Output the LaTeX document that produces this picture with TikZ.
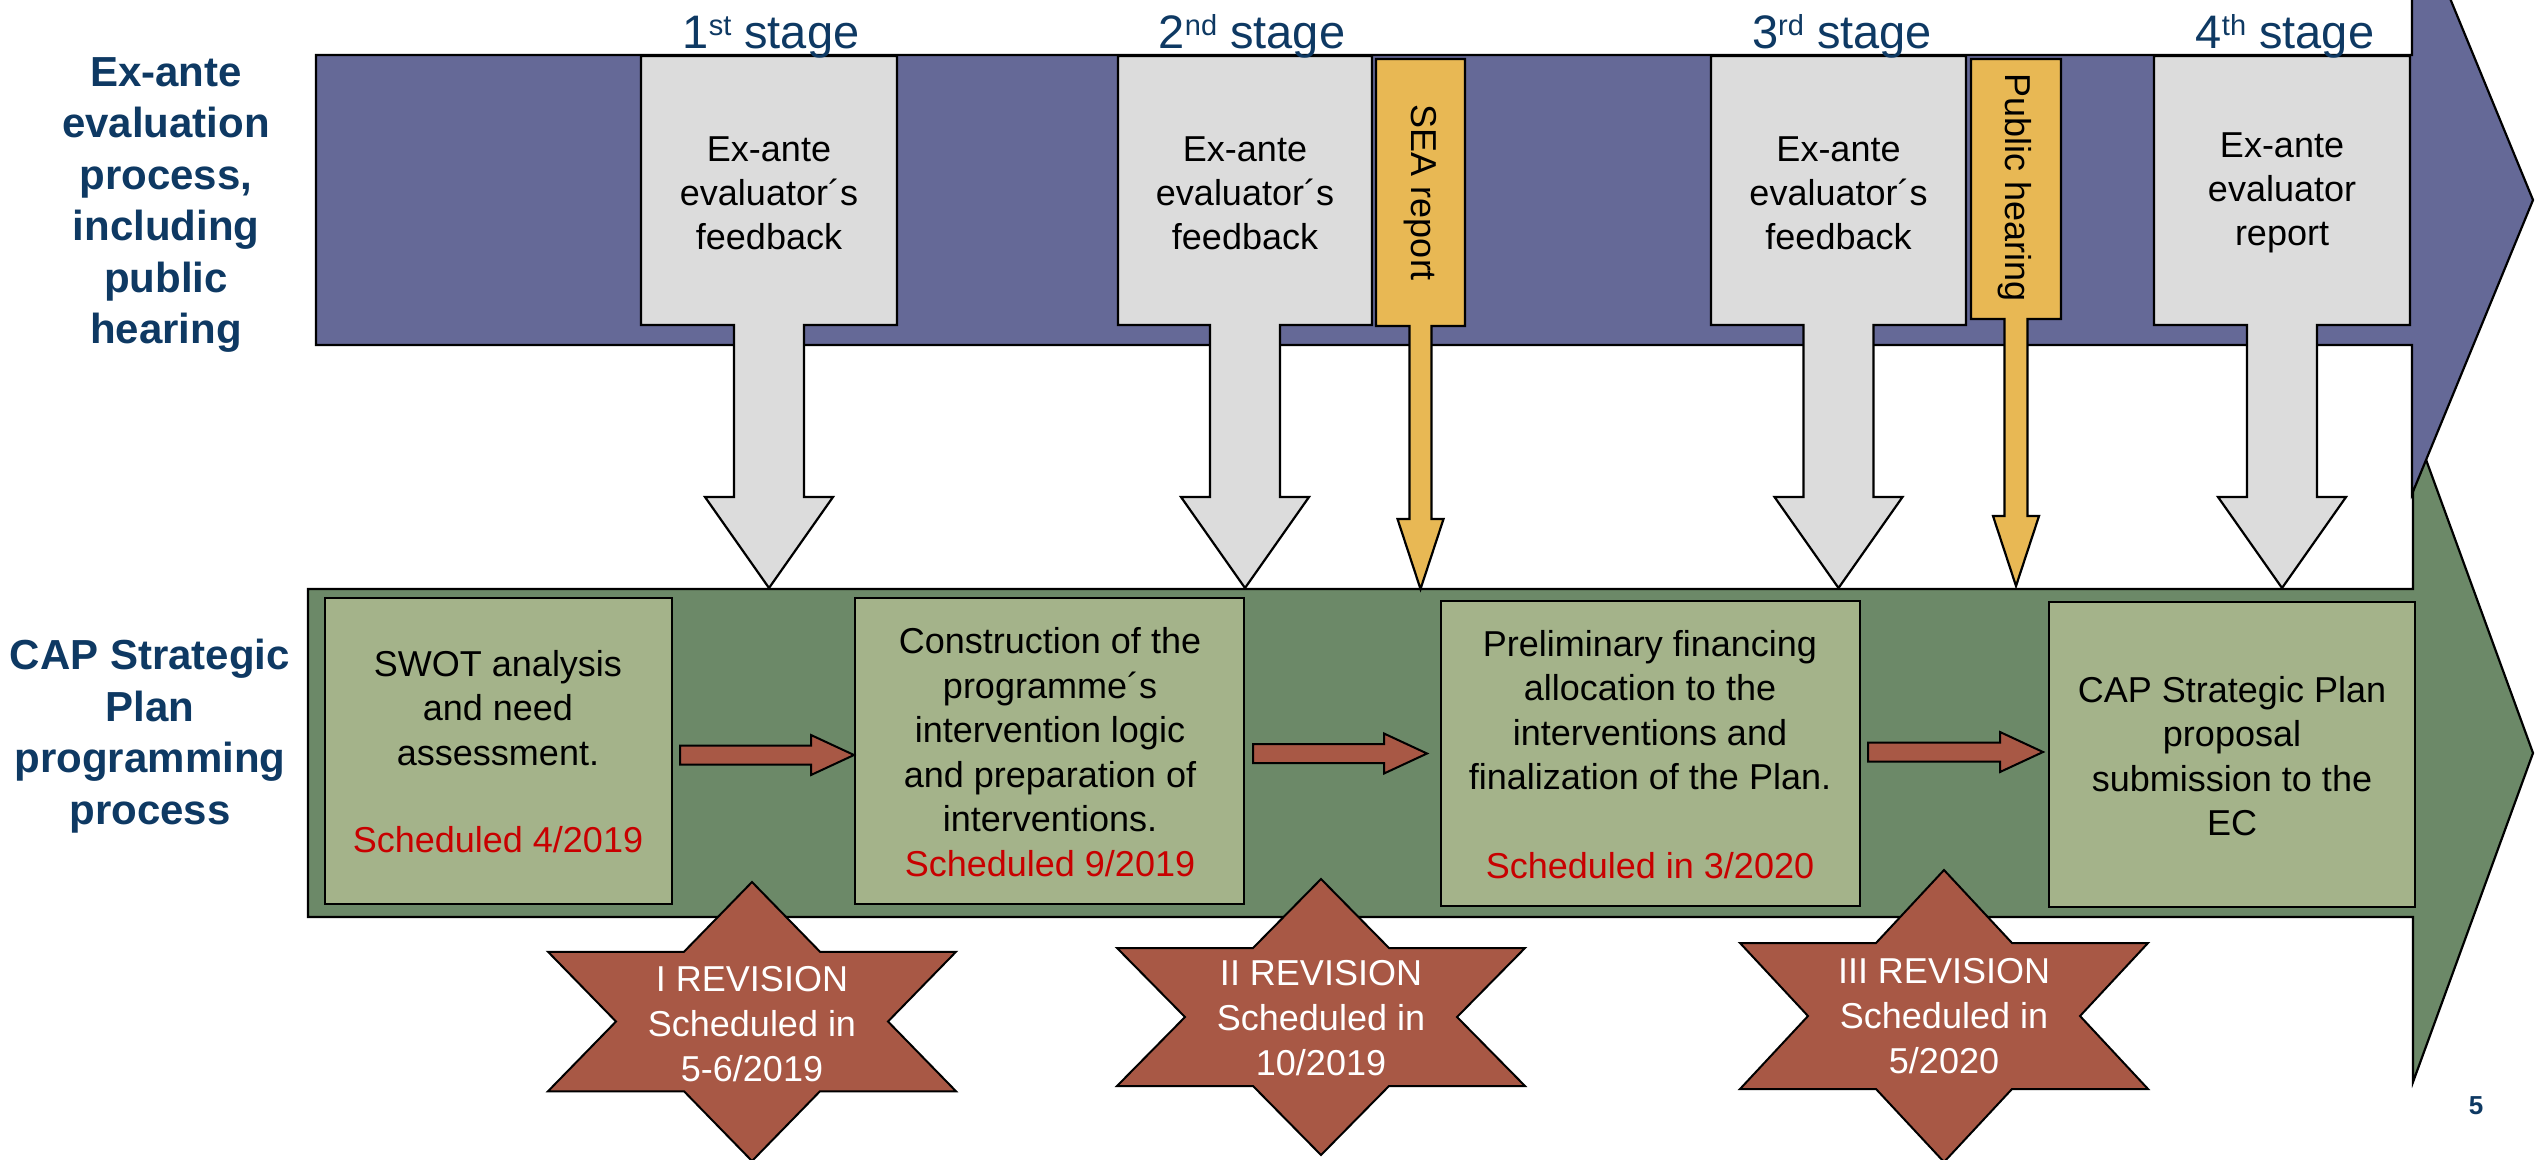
\documentclass[tikz,border=0pt]{standalone}
\usepackage{fontspec}
\setmainfont{Liberation Sans}
\usetikzlibrary{calc}
\definecolor{bluearrow}{RGB}{101,105,151}
\definecolor{greenarrow}{RGB}{108,137,104}
\definecolor{lightgreen}{RGB}{164,179,138}
\definecolor{grayfill}{RGB}{220,220,220}
\definecolor{orangefill}{RGB}{232,184,84}
\definecolor{rust}{RGB}{168,88,69}
\definecolor{navy}{RGB}{14,57,99}
\definecolor{schedred}{RGB}{200,0,0}
\newcommand\mycallout[9]{%
  \filldraw[fill=#1, outl] ({#2-#3},#4) -- ({#2+#3},#4) -- ({#2+#3},#5) -- ({#2+#6},#5) -- ({#2+#6},#8) -- ({#2+#7},#8) -- (#2,#9) -- ({#2-#7},#8) -- ({#2-#6},#8) -- ({#2-#6},#5) -- ({#2-#3},#5) -- cycle;}
% #1 cx, #2 cy, #3 vertical radius
\newcommand\hexstar[3]{%
  \filldraw[fill=rust, draw=black, line width=2, shift={(#1,#2)}] (0,-#3) -- (68,{-#3/2}) -- (204,{-#3/2}) -- (136,0) -- (204,{#3/2}) -- (68,{#3/2}) -- (0,#3) -- (-68,{#3/2}) -- (-204,{#3/2}) -- (-136,0) -- (-204,{-#3/2}) -- (-68,{-#3/2}) -- cycle;}
\newcommand\blockarrow[3]{%
  \filldraw[fill=rust, draw=black, line width=2] (#1,{#3-9.5}) -- ({#2-43},{#3-9.5}) -- ({#2-43},{#3-20}) -- (#2,#3) -- ({#2-43},{#3+20}) -- ({#2-43},{#3+9.5}) -- (#1,{#3+9.5}) -- cycle;}
\begin{document}
\begin{tikzpicture}[x=1pt,y=-1pt, line join=miter,
  outl/.style={draw=black,line width=2.2},
  gbox/.style={draw=black,line width=2.5,fill=lightgreen,inner sep=0},
  lbl/.style={font=\fontsize{42}{51.5}\selectfont\bfseries, text=navy, align=center, inner sep=0},
  stagelbl/.style={font=\fontsize{47}{54}\selectfont, text=navy, inner sep=0, anchor=base},
  boxtxt/.style={font=\fontsize{36}{44}\selectfont, align=center, inner sep=0},
  gtxt/.style={font=\fontsize{36}{44.5}\selectfont, align=center, inner sep=0},
  redtxt/.style={font=\fontsize{36}{44.5}\selectfont, text=schedred, inner sep=0},
  startxt/.style={font=\fontsize{36}{45}\selectfont, text=white, align=center, inner sep=0},
  vtxt/.style={font=\fontsize{36}{36}\selectfont, rotate=-90, inner sep=0}
]
\useasboundingbox (0,0) rectangle (2539,1159);
\clip (0,0) rectangle (2539,1159);
\fill[white] (0,0) rectangle (2539,1159);

% big process arrows
\filldraw[fill=greenarrow, outl] (308,589) -- (2413,589) -- (2413,424) -- (2533,753) -- (2413,1082) -- (2413,917) -- (308,917) -- cycle;
\filldraw[fill=bluearrow, outl] (316,55) -- (2412,55) -- (2412,-94) -- (2533,200) -- (2412,494) -- (2412,345) -- (316,345) -- cycle;

% callouts
\mycallout{grayfill}{769}{128}{56}{325}{35}{64}{497}{588}
\mycallout{grayfill}{1245}{127}{56}{325}{35}{64}{497}{588}
\mycallout{grayfill}{1838.5}{127.5}{56}{325}{35}{64}{497}{588}
\mycallout{grayfill}{2282}{128}{56}{325}{35}{64}{497}{588}
\mycallout{orangefill}{1420.5}{44.5}{59}{326}{11}{23}{519}{589}
\mycallout{orangefill}{2016}{45}{59}{319}{11.5}{23}{516}{586}

% callout texts
\node[boxtxt] (fb1) at (769,193) {Ex-ante\\evaluator´s\\feedback};
\node[boxtxt] (fb2) at (1245,193) {Ex-ante\\evaluator´s\\feedback};
\node[boxtxt] (fb3) at (1838.5,193) {Ex-ante\\evaluator´s\\feedback};
\node[boxtxt] (fb4) at (2282,193) {Ex-ante\\evaluator\\report};
\node[vtxt] (sea) at (1420,193) {SEA report};
\node[vtxt] (ph) at (2015,188) {Public hearing};

% stage labels
\node[stagelbl] (s1) at (771,48) {1\raisebox{13pt}{\fontsize{29}{29}\selectfont st} stage};
\node[stagelbl] (s2) at (1252,48) {2\raisebox{13pt}{\fontsize{29}{29}\selectfont nd} stage};
\node[stagelbl] (s3) at (1842,48) {3\raisebox{13pt}{\fontsize{29}{29}\selectfont rd} stage};
\node[stagelbl] (s4) at (2285,48) {4\raisebox{13pt}{\fontsize{29}{29}\selectfont th} stage};

% left labels
\node[lbl] (l1) at (166,205) {Ex-ante\\evaluation\\process,\\including\\public\\hearing};
\node[lbl] (l2) at (150,736) {CAP Strategic\\Plan\\programming\\process};

% programming boxes
\node[gbox, minimum width=347, minimum height=306] (b1) at (498.5,751) {};
\node[gbox, minimum width=389, minimum height=306] (b2) at (1049.5,751) {};
\node[gbox, minimum width=419, minimum height=305] (b3) at (1650.5,753.5) {};
\node[gbox, minimum width=366, minimum height=305] (b4) at (2232,754.5) {};

\node[gtxt] (t1) at (498,708) {SWOT analysis\\and need\\assessment.};
\node[redtxt] (r1) at (498,840) {Scheduled 4/2019};
\node[gtxt] (t2) at (1050,730) {Construction of the\\programme´s\\intervention logic\\and preparation of\\interventions.};
\node[redtxt] (r2) at (1050,864) {Scheduled 9/2019};
\node[gtxt] (t3) at (1650,710) {Preliminary financing\\allocation to the\\interventions and\\finalization of the Plan.};
\node[redtxt] (r3) at (1650,866) {Scheduled in 3/2020};
\node[gtxt] (t4) at (2232,756) {CAP Strategic Plan\\proposal\\submission to the\\EC};

% flow arrows
\blockarrow{680}{854}{755}
\blockarrow{1253}{1427}{753.5}
\blockarrow{1868}{2043}{752}

% revision stars
\hexstar{752}{1021.5}{139.5}
\hexstar{1321}{1017}{138}
\hexstar{1944}{1016}{146}
\node[startxt] (rv1) at (752,1024) {I REVISION\\Scheduled in\\5-6/2019};
\node[startxt] (rv2) at (1321,1018) {II REVISION\\Scheduled in\\10/2019};
\node[startxt] (rv3) at (1944,1016) {III REVISION\\Scheduled in\\5/2020};

% page number
\node[font=\fontsize{26}{26}\selectfont\bfseries, text=navy, inner sep=0] (pg) at (2476,1106) {5};
\end{tikzpicture}
\end{document}
